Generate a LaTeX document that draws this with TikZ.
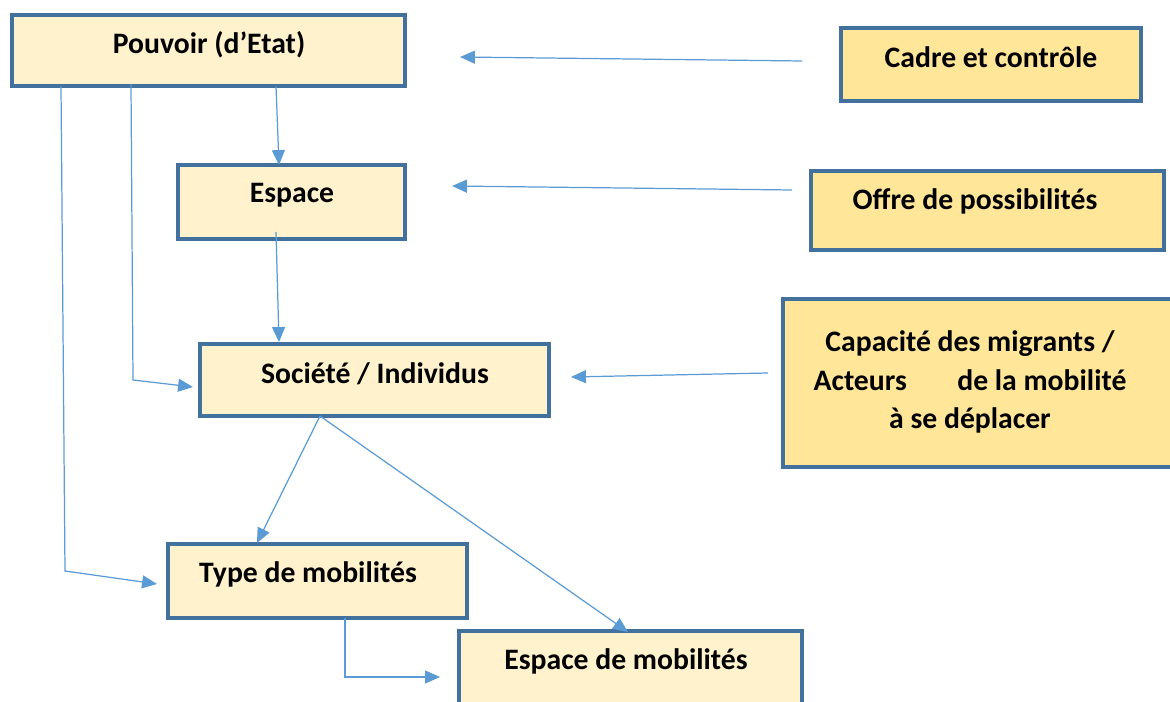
\documentclass[tikz,border=0pt]{standalone}
\usepackage{fontspec}
\setmainfont{Carlito}
\usetikzlibrary{arrows.meta,calc}
\definecolor{boxline}{HTML}{41719C}
\definecolor{lightfill}{HTML}{FFF2CC}
\definecolor{darkfill}{HTML}{FFE699}
\definecolor{arrowblue}{HTML}{5B9BD5}
\tikzset{
  box/.style={draw=boxline, line width=1.8pt, rectangle, anchor=north west, inner sep=0pt, outer sep=0pt},
  lightbox/.style={box, fill=lightfill},
  darkbox/.style={box, fill=darkfill},
  lbl/.style={font=\bfseries\fontsize{16.9}{22.1}\selectfont, inner sep=0pt, align=center},
  conn/.style={draw=arrowblue, line width=0.7pt, -{Triangle[length=8.5pt,width=7.4pt]}},
  plain/.style={draw=arrowblue, line width=0.7pt}
}
\begin{document}
\begin{tikzpicture}[x=0.02cm,y=-0.02cm]
\useasboundingbox (0,0) rectangle (1170,702);
\clip (0,0) rectangle (1170,702);
% boxes
\node[lightbox, minimum width=7.86cm, minimum height=1.42cm] (pouvoir) at (12,15) {};
\node[lightbox, minimum width=4.54cm, minimum height=1.48cm] (espace) at (178,165) {};
\node[lightbox, minimum width=6.98cm, minimum height=1.44cm] (societe) at (200,344) {};
\node[lightbox, minimum width=5.98cm, minimum height=1.48cm] (type) at (168,544) {};
\node[lightbox, minimum width=6.86cm, minimum height=1.9cm] (espmob) at (459,631) {};
\node[darkbox, minimum width=6.0cm, minimum height=1.46cm] (cadre) at (841,28) {};
\node[darkbox, minimum width=7.06cm, minimum height=1.58cm] (offre) at (811,171) {};
\node[darkbox, minimum width=8.0cm, minimum height=3.36cm] (capa) at (783,299) {};
% texts
\node[lbl] (tpouvoir) at (209,45) {Pouvoir (d’Etat)};
\node[lbl] (tespace) at (292,195) {Espace};
\node[lbl] (tsociete) at (375,374) {Société / Individus};
\node[lbl] (ttype) at (308,574) {Type de mobilités};
\node[lbl] (tespmob) at (626,661) {Espace de mobilités};
\node[lbl] (tcadre) at (991,57) {Cadre et contrôle};
\node[lbl] (toffre) at (975,201) {Offre de possibilités};
\node[lbl] (tcapa) at (970,382) {Capacité des migrants /\\Acteurs\hspace{1.7em}de la mobilité\\à se déplacer};
% connector end points
\coordinate (c1s) at (802,61);  \coordinate (c1e) at (460,57);
\coordinate (c2s) at (792,190); \coordinate (c2e) at (452,186);
\coordinate (c3s) at (768,373); \coordinate (c3e) at (571,377);
\coordinate (p1) at (276,86);   \coordinate (p1e) at (279,165);
\coordinate (e1) at (276,232);  \coordinate (e1e) at (279,342);
\coordinate (p2) at (131,84);   \coordinate (p2m) at (133,380); \coordinate (p2e) at (193,387);
\coordinate (p3) at (61,86);    \coordinate (p3m) at (65,571);  \coordinate (p3e) at (157,584);
\coordinate (s1) at (320,416);  \coordinate (s1e) at (257,543); \coordinate (s2e) at (628,632);
\coordinate (t1) at (345,618);  \coordinate (t1m) at (345,677); \coordinate (t1e) at (440,677);
% connectors
\draw[conn] (c1s) -- (c1e);
\draw[conn] (c2s) -- (c2e);
\draw[conn] (c3s) -- (c3e);
\draw[conn] (p1) -- (p1e);
\draw[conn] (e1) -- (e1e);
\draw[conn] (p2) -- (p2m) -- (p2e);
\draw[conn] (p3) -- (p3m) -- (p3e);
\draw[conn] (s1) -- (s1e);
\draw[conn] (s1) -- (s2e);
\draw[conn] (t1) -- (t1m) -- (t1e);
\end{tikzpicture}
\end{document}
